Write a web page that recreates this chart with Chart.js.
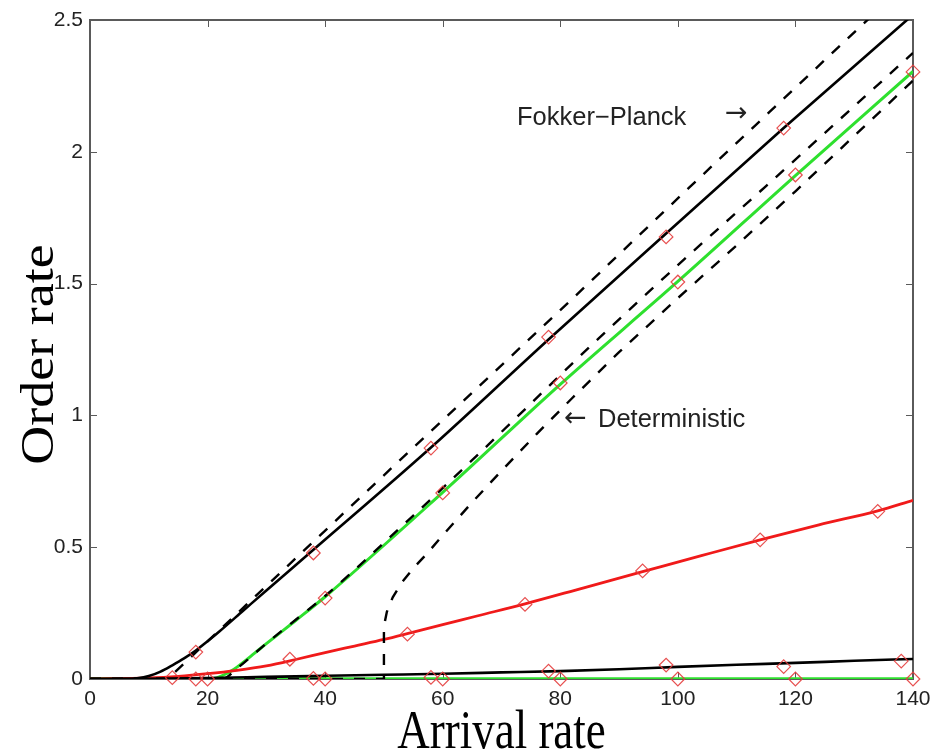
<!DOCTYPE html>
<html>
<head>
<meta charset="utf-8">
<script src="https://cdn.jsdelivr.net/npm/chart.js@4.4.1/dist/chart.umd.min.js"></script>
<style>
  html, body { margin: 0; padding: 0; background: #fff; }
  #wrap { width: 934px; height: 753px; }
</style>
</head>
<body>
<div id="wrap"><canvas id="c" width="934" height="753"></canvas></div>
<script>
// Axis ticks
const xTicks = [0, 20, 40, 60, 80, 100, 120, 140];
const yTicks = [0, 0.5, 1, 1.5, 2, 2.5];
const yTickLabels = ['0', '0.5', '1', '1.5', '2', '2.5'];

// Fokker-Planck curves (solid)
const fpHighX = [0, 6, 8, 10, 12, 14, 16, 18, 20, 22, 26, 30, 38, 58, 78, 98, 118, 140];
const fpHighY = [0, 0.0005, 0.003, 0.011, 0.028, 0.052, 0.078, 0.108, 0.143, 0.18, 0.258, 0.336, 0.49, 0.878, 1.288, 1.69, 2.09, 2.52];

const fpGreenX = [0, 20, 21, 22, 23, 24, 25, 26, 28, 30, 35, 40, 60, 80, 100, 120, 140];
const fpGreenY = [0, 0, 0.002, 0.008, 0.018, 0.03, 0.045, 0.062, 0.098, 0.134, 0.222, 0.312, 0.708, 1.118, 1.508, 1.91, 2.305];

const fpRedX = [0, 10, 15, 20, 25, 30, 35, 40, 45, 50, 55, 60, 66, 74, 84, 94, 104, 114, 124, 134, 140];
const fpRedY = [0, 0.004, 0.01, 0.02, 0.033, 0.05, 0.074, 0.1, 0.125, 0.15, 0.178, 0.206, 0.24, 0.285, 0.346, 0.407, 0.468, 0.528, 0.585, 0.638, 0.678];

const fpLowX = [0, 10, 20, 30, 40, 50, 60, 70, 80, 90, 100, 110, 120, 130, 140];
const fpLowY = [0, 0.001, 0.004, 0.008, 0.012, 0.016, 0.02, 0.025, 0.03, 0.037, 0.046, 0.054, 0.061, 0.069, 0.076];

const fpZeroX = [0, 140];
const fpZeroY = [0, 0];

// Deterministic curves (dashed)
const detAX = [0, 13.2, 20, 30, 51, 81, 102, 132, 140];
const detAY = [0, 0, 0.143, 0.353, 0.794, 1.42, 1.866, 2.495, 2.66];

const detBX = [0, 22.5, 25, 30, 35, 40, 55, 65, 75, 85, 100, 115, 140];
const detBY = [0, 0, 0.04, 0.135, 0.225, 0.315, 0.62, 0.83, 1.045, 1.26, 1.57, 1.87, 2.375];

const detCX = [0, 50, 50, 50.5, 51.5, 53, 55, 57.5, 60, 65, 70, 76, 82, 90, 100, 110, 120, 130, 140];
const detCY = [0, 0, 0.2, 0.255, 0.31, 0.365, 0.42, 0.48, 0.545, 0.67, 0.79, 0.93, 1.065, 1.24, 1.445, 1.645, 1.85, 2.06, 2.27];

// Simulation results (diamonds)
const simHighX = [18, 38, 58, 78, 98, 118];
const simHighY = [0.102, 0.478, 0.876, 1.297, 1.677, 2.09];

const simGreenX = [20, 40, 60, 80, 100, 120, 140];
const simGreenY = [0, 0.307, 0.706, 1.123, 1.506, 1.912, 2.303];

const simRedX = [14, 34, 54, 74, 94, 114, 134];
const simRedY = [0.005, 0.075, 0.17, 0.283, 0.41, 0.528, 0.636];

const simLowX = [18, 38, 58, 78, 98, 118, 138];
const simLowY = [0, 0.002, 0.006, 0.03, 0.053, 0.047, 0.068];

const simZeroX = [40, 60, 80, 100, 120, 140];
const simZeroY = [0, 0, 0, 0, 0, 0];

const pts = (xs, ys) => xs.map((x, i) => ({ x: x, y: ys[i] }));

const MARK = 'rgba(228, 60, 60, 0.9)';
const DASH = [11, 11];

function solid(xs, ys, color, width, order) {
  return {
    data: pts(xs, ys), borderColor: color, borderWidth: width,
    pointRadius: 0, cubicInterpolationMode: 'monotone', fill: false, order: order
  };
}
function dashed(xs, ys, smooth) {
  return {
    data: pts(xs, ys), borderColor: '#000', borderWidth: 2.4, borderDash: DASH,
    pointRadius: 0, tension: 0, cubicInterpolationMode: smooth ? 'monotone' : 'default',
    fill: false, order: 1
  };
}
function markers(xs, ys) {
  return {
    data: pts(xs, ys), showLine: false, pointStyle: 'rectRot', pointRadius: 6.8,
    pointBorderColor: MARK, pointBackgroundColor: 'rgba(0,0,0,0)', pointBorderWidth: 1.2,
    clip: false, order: 0
  };
}

// Boxed axes with inward ticks on all four sides
const frame = {
  id: 'frame',
  beforeDatasetsDraw(chart) {
    const { ctx, chartArea: a, scales: { x, y } } = chart;
    ctx.save();
    ctx.strokeStyle = '#5a5a5a';
    ctx.lineWidth = 1;
    ctx.beginPath();
    xTicks.forEach(v => {
      const px = Math.round(x.getPixelForValue(v)) + 0.5;
      ctx.moveTo(px, a.bottom); ctx.lineTo(px, a.bottom - 7);
      ctx.moveTo(px, a.top); ctx.lineTo(px, a.top + 7);
    });
    yTicks.forEach(v => {
      const py = Math.round(y.getPixelForValue(v)) + 0.5;
      ctx.moveTo(a.left, py); ctx.lineTo(a.left + 7, py);
      ctx.moveTo(a.right, py); ctx.lineTo(a.right - 7, py);
    });
    ctx.stroke();
    ctx.lineWidth = 2;
    ctx.strokeRect(a.left, a.top, a.right - a.left, a.bottom - a.top);
    ctx.restore();
  }
};

// Axis titles and curve annotations
const labels = {
  id: 'labels',
  afterDraw(chart) {
    const { ctx, chartArea: a } = chart;
    ctx.save();
    ctx.fillStyle = '#000';
    ctx.font = '45px "Liberation Serif", "Times New Roman", serif';
    ctx.textAlign = 'center';
    ctx.textBaseline = 'alphabetic';
    ctx.save();
    ctx.translate((a.left + a.right) / 2, 748);
    ctx.scale(1, 1.2);
    ctx.fillText('Arrival rate', 0, 0);
    ctx.restore();
    ctx.save();
    ctx.translate(53, (a.top + a.bottom) / 2 + 5);
    ctx.rotate(-Math.PI / 2);
    ctx.scale(1.2, 1.05);
    ctx.fillText('Order rate', 0, 0);
    ctx.restore();
    ctx.fillStyle = '#222';
    ctx.textAlign = 'left';
    ctx.font = '25.5px "Liberation Sans", Arial, sans-serif';
    ctx.fillText('Fokker\u2212Planck', 517, 125);
    ctx.fillText('Deterministic', 598, 427);
    ctx.font = '27px "DejaVu Sans", sans-serif';
    ctx.textBaseline = 'middle';
    ctx.fillText('\u2192', 725, 114);
    ctx.fillText('\u2190', 564, 419);
    ctx.restore();
  }
};

new Chart(document.getElementById('c'), {
  type: 'line',
  data: {
    datasets: [
      markers(simHighX, simHighY),
      markers(simGreenX, simGreenY),
      markers(simRedX, simRedY),
      markers(simLowX, simLowY),
      markers(simZeroX, simZeroY),
      dashed(detAX, detAY, false),
      dashed(detBX, detBY, true),
      dashed(detCX, detCY, false),
      solid(fpHighX, fpHighY, '#000', 2.6, 2),
      solid(fpLowX, fpLowY, '#000', 2.6, 2),
      solid(fpRedX, fpRedY, '#f01a1a', 2.8, 3),
      solid(fpGreenX, fpGreenY, '#2ee02e', 3, 4),
      solid(fpZeroX, fpZeroY, '#2ee02e', 3.6, 4)
    ]
  },
  options: {
    responsive: false,
    animation: false,
    devicePixelRatio: 1,
    layout: { padding: { left: 0, right: 21, top: 20, bottom: 0 } },
    plugins: { legend: { display: false }, tooltip: { enabled: false } },
    scales: {
      x: {
        type: 'linear', min: 0, max: 140,
        afterBuildTicks: s => { s.ticks = xTicks.map(v => ({ value: v })); },
        ticks: {
          padding: 8, color: '#222', maxRotation: 0, autoSkip: false,
          font: { family: '"Liberation Sans", Arial, sans-serif', size: 21 },
          callback: v => String(v)
        },
        grid: { display: false, drawTicks: false },
        border: { display: false },
        afterFit: s => { s.height = 74; s.paddingLeft = 0; s.paddingRight = 0; }
      },
      y: {
        type: 'linear', min: 0, max: 2.5,
        afterBuildTicks: s => { s.ticks = yTicks.map(v => ({ value: v })); },
        ticks: {
          padding: 7, color: '#222', autoSkip: false,
          font: { family: '"Liberation Sans", Arial, sans-serif', size: 21 },
          callback: v => yTickLabels[yTicks.indexOf(v)]
        },
        grid: { display: false, drawTicks: false },
        border: { display: false },
        afterFit: s => { s.width = 90; s.paddingTop = 0; s.paddingBottom = 0; }
      }
    }
  },
  plugins: [frame, labels]
});
</script>
</body>
</html>
